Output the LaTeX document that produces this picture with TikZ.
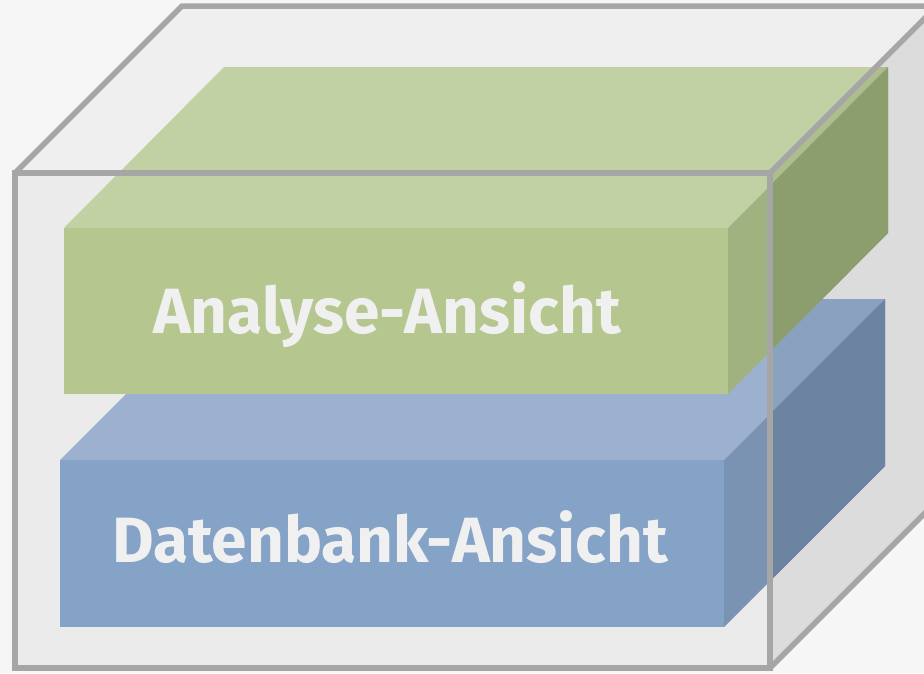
\documentclass[tikz,border=0pt]{standalone}
\usepackage{fontspec}
\newfontfamily\lblfont{Fira Sans}
\definecolor{bgc}{HTML}{F6F6F6}
\definecolor{cubetop}{HTML}{EFEFEF}
\definecolor{cubefront}{HTML}{EBEBEB}
\definecolor{cuberight}{HTML}{DCDCDC}
\definecolor{edgec}{HTML}{A6A6A6}
\definecolor{gfront}{HTML}{B5C78E}
\definecolor{gtop}{HTML}{C2D1A3}
\definecolor{gside}{HTML}{9FB27F}
\definecolor{gtopd}{HTML}{ADBD8E}
\definecolor{gsided}{HTML}{8D9E6E}
\definecolor{bfront}{HTML}{84A3C7}
\definecolor{btop}{HTML}{9CB1CF}
\definecolor{bside}{HTML}{7B93B3}
\definecolor{btopd}{HTML}{8BA1C0}
\definecolor{bsided}{HTML}{6C83A2}
\definecolor{txtc}{HTML}{F0F0F0}
\tikzset{
  cubeedge/.style={draw=edgec,line width=5.5pt,line join=miter},
  lbl/.style={text=txtc,font=\lblfont\bfseries\fontsize{64}{70}\selectfont,inner sep=0pt,anchor=base}
}
\begin{document}
\begin{tikzpicture}[x=1pt,y=-1pt]
\useasboundingbox (0,0) rectangle (924,673);
\clip (0,0) rectangle (924,673);
\fill[bgc] (0,0) rectangle (924,673);
% cube faces
\fill[cubetop] (15,173) -- (182,6) -- (937,6) -- (770,173) -- cycle;
\fill[cubefront] (15,173) rectangle (770,668);
\fill[cuberight] (770,173) -- (937,6) -- (937,501) -- (770,668) -- cycle;
% blue box
\fill[bfront] (60,460) rectangle (724,627);
\fill[btop] (60,460) -- (221,299) -- (885,299) -- (724,460) -- cycle;
\fill[bside] (724,460) -- (885,299) -- (885,466) -- (724,627) -- cycle;
% green box
\fill[gfront] (64,228) rectangle (728,394);
\fill[gtop] (64,228) -- (224,67) -- (888,67) -- (728,228) -- cycle;
\fill[gside] (728,228) -- (888,67) -- (888,233) -- (728,394) -- cycle;
% parts seen through the right face
\begin{scope}
\clip (770,173) -- (937,6) -- (937,501) -- (770,668) -- cycle;
\fill[btopd] (60,460) -- (221,299) -- (885,299) -- (724,460) -- cycle;
\fill[bsided] (724,460) -- (885,299) -- (885,466) -- (724,627) -- cycle;
\fill[gtopd] (64,228) -- (224,67) -- (888,67) -- (728,228) -- cycle;
\fill[gsided] (728,228) -- (888,67) -- (888,233) -- (728,394) -- cycle;
\end{scope}
% labels
\node[lbl] (analyse) at (387,333) {Analyse-Ansicht};
\node[lbl] (datenbank) at (390,562) {Datenbank-Ansicht};
% cube edges
\draw[cubeedge] (15,173) rectangle (770,668);
\draw[cubeedge] (15,173) -- (182,6) -- (937,6) -- (770,173);
\draw[cubeedge] (937,6) -- (937,501) -- (770,668);
\end{tikzpicture}
\end{document}
